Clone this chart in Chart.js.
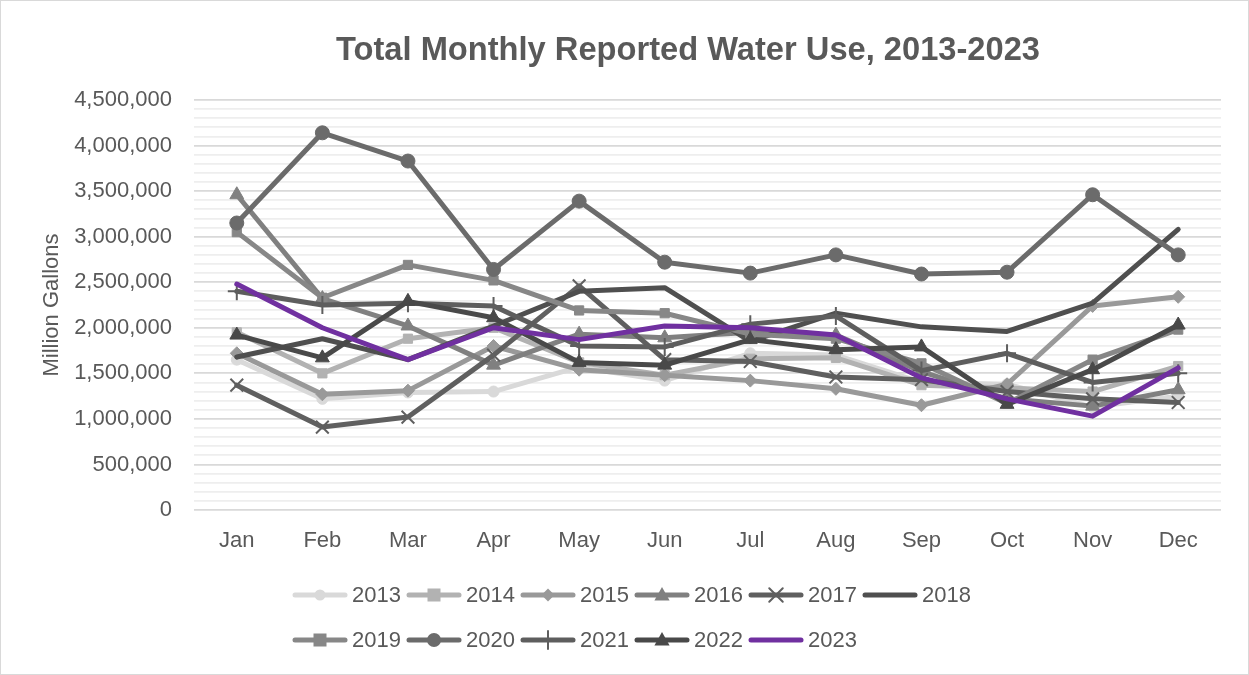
<!DOCTYPE html>
<html>
<head>
<meta charset="utf-8">
<title>Total Monthly Reported Water Use, 2013-2023</title>
<script src="https://cdn.jsdelivr.net/npm/chart.js@4.4.0/dist/chart.umd.min.js"></script>
<style>
    html, body { margin: 0; padding: 0; background: #ffffff; }
    #wrap { width: 1249px; height: 675px; position: relative; }
</style>
</head>
<body>
<div id="wrap"><canvas id="waterChart" width="1249" height="675"></canvas></div>
<script>
const months = ['Jan', 'Feb', 'Mar', 'Apr', 'May', 'Jun', 'Jul', 'Aug', 'Sep', 'Oct', 'Nov', 'Dec'];
const years = ['2013', '2014', '2015', '2016', '2017', '2018', '2019', '2020', '2021', '2022', '2023'];

const use2013 = [1650000, 1220000, 1290000, 1300000, 1570000, 1420000, 1720000, 1700000, 1400000, 1380000, 1130000, 1250000];
const use2014 = [1950000, 1500000, 1880000, 2000000, 1620000, 1480000, 1660000, 1670000, 1370000, 1340000, 1300000, 1580000];
const use2015 = [1720000, 1270000, 1310000, 1800000, 1540000, 1480000, 1420000, 1330000, 1150000, 1380000, 2240000, 2340000];
const use2016 = [3460000, 2320000, 2020000, 1590000, 1930000, 1890000, 1950000, 1920000, 1520000, 1220000, 1140000, 1320000];
const use2017 = [1370000, 910000, 1020000, 1700000, 2460000, 1650000, 1630000, 1460000, 1430000, 1300000, 1220000, 1180000];
const use2018 = [1680000, 1880000, 1650000, 2020000, 2400000, 2440000, 1850000, 2160000, 2010000, 1960000, 2270000, 3080000];
const use2019 = [3050000, 2330000, 2690000, 2520000, 2190000, 2160000, 1930000, 1880000, 1610000, 1170000, 1650000, 1980000];
const use2020 = [3150000, 4140000, 3830000, 2640000, 3390000, 2720000, 2600000, 2800000, 2590000, 2610000, 3460000, 2800000];
const use2021 = [2400000, 2250000, 2270000, 2240000, 1800000, 1790000, 2040000, 2130000, 1530000, 1720000, 1400000, 1500000];
const use2022 = [1920000, 1670000, 2290000, 2110000, 1620000, 1590000, 1870000, 1760000, 1790000, 1160000, 1540000, 2030000];
const use2023 = [2480000, 2000000, 1650000, 2000000, 1870000, 2020000, 2000000, 1920000, 1450000, 1220000, 1030000, 1560000];

const yearValues = [use2013, use2014, use2015, use2016, use2017, use2018, use2019, use2020, use2021, use2022, use2023];

// series look
const lineColors = ['#d9d9d9', '#b2b2b2', '#999999', '#808080', '#5f5f5f', '#4f4f4f', '#878787', '#6b6b6b', '#5e5e5e', '#494949', '#7030a0'];
const markerStyles = ['circle', 'rect', 'rectRot', 'triangle', 'crossRot', false, 'rect', 'circle', 'cross', 'triangle', false];
const markerSizes = [5.5, 6.5, 6.5, 8, 9, 0, 6.5, 7, 9, 8, 0];

const textColor = '#595959';
const fontFamily = '"Liberation Sans", Arial, sans-serif';

function drawMarker(ctx, style, r, x, y, color) {
    if (!style || !r) return;
    ctx.save();
    ctx.fillStyle = color;
    ctx.strokeStyle = color;
    ctx.lineWidth = 2;
    ctx.beginPath();
    if (style === 'circle') {
        ctx.arc(x, y, r, 0, Math.PI * 2);
        ctx.fill();
    } else if (style === 'rect') {
        ctx.fillRect(x - r, y - r, r * 2, r * 2);
    } else if (style === 'rectRot') {
        ctx.moveTo(x, y - r);
        ctx.lineTo(x + r, y);
        ctx.lineTo(x, y + r);
        ctx.lineTo(x - r, y);
        ctx.closePath();
        ctx.fill();
    } else if (style === 'triangle') {
        ctx.moveTo(x, y - r);
        ctx.lineTo(x + r * 0.95, y + r * 0.7);
        ctx.lineTo(x - r * 0.95, y + r * 0.7);
        ctx.closePath();
        ctx.fill();
    } else if (style === 'cross') {
        ctx.moveTo(x, y - r); ctx.lineTo(x, y + r);
        ctx.moveTo(x - r, y); ctx.lineTo(x + r, y);
        ctx.stroke();
    } else if (style === 'crossRot') {
        const d = r * 0.75;
        ctx.moveTo(x - d, y - d); ctx.lineTo(x + d, y + d);
        ctx.moveTo(x + d, y - d); ctx.lineTo(x - d, y + d);
        ctx.stroke();
    }
    ctx.restore();
}

const frameAndLegend = {
    id: 'frameAndLegend',
    beforeDraw(chart) {
        const ctx = chart.ctx;
        ctx.save();
        ctx.fillStyle = '#ffffff';
        ctx.fillRect(0, 0, chart.width, chart.height);
        ctx.restore();
    },
    afterDraw(chart) {
        const ctx = chart.ctx;
        ctx.save();
        // outer frame
        ctx.strokeStyle = '#d9d9d9';
        ctx.lineWidth = 1;
        ctx.strokeRect(0.5, 0.5, chart.width - 1, chart.height - 1);

        // title
        ctx.fillStyle = textColor;
        ctx.font = 'bold 33px ' + fontFamily;
        ctx.textAlign = 'center';
        ctx.textBaseline = 'middle';
        ctx.fillText('Total Monthly Reported Water Use, 2013-2023', 688, 51, 704);

        // legend, two rows of six
        ctx.font = '22px ' + fontFamily;
        ctx.textAlign = 'left';
        years.forEach((yr, i) => {
            const row = Math.floor(i / 6);
            const col = i % 6;
            const x0 = 295 + col * 114;
            const y0 = 595 + row * 45;
            ctx.strokeStyle = lineColors[i];
            ctx.lineWidth = 5;
            ctx.lineCap = 'round';
            ctx.beginPath();
            ctx.moveTo(x0, y0);
            ctx.lineTo(x0 + 50, y0);
            ctx.stroke();
            drawMarker(ctx, markerStyles[i], markerSizes[i], x0 + 25, y0, lineColors[i]);
            ctx.fillStyle = textColor;
            ctx.fillText(yr, x0 + 57, y0 + 1);
        });
        ctx.restore();
    }
};

const datasets = years.map((yr, i) => ({
    label: yr,
    data: yearValues[i],
    borderColor: lineColors[i],
    backgroundColor: lineColors[i],
    borderWidth: 5,
    borderCapStyle: 'round',
    borderJoinStyle: 'round',
    tension: 0,
    pointStyle: markerStyles[i],
    pointRadius: markerSizes[i],
    pointHoverRadius: markerSizes[i],
    pointBorderWidth: (markerStyles[i] === 'cross' || markerStyles[i] === 'crossRot') ? 2 : 1,
    pointBorderColor: lineColors[i],
    pointBackgroundColor: lineColors[i],
    order: years.length - i
}));

new Chart(document.getElementById('waterChart'), {
    type: 'line',
    data: { labels: months, datasets: datasets },
    options: {
        responsive: false,
        animation: false,
        layout: { padding: { top: 100, right: 28, bottom: 0, left: 0 } },
        plugins: {
            legend: { display: false },
            title: { display: false },
            tooltip: { enabled: false }
        },
        scales: {
            x: {
                offset: true,
                grid: { display: false, drawTicks: false },
                border: { display: false },
                ticks: {
                    color: textColor,
                    font: { family: fontFamily, size: 22 },
                    padding: 18,
                    maxRotation: 0
                },
                afterFit(scale) { scale.height = 165; }
            },
            y: {
                min: 0,
                max: 4500000,
                grid: {
                    drawTicks: false,
                    color: c => (c.tick.value % 500000 === 0 ? '#d9d9d9' : '#eeeeee'),
                    lineWidth: 1.8
                },
                border: { display: false },
                ticks: {
                    stepSize: 100000,
                    autoSkip: false,
                    color: textColor,
                    font: { family: fontFamily, size: 22 },
                    padding: 22,
                    callback: v => (v % 500000 === 0 ? v.toLocaleString('en-US') : '')
                },
                title: {
                    display: true,
                    text: 'Million Gallons',
                    color: textColor,
                    font: { family: fontFamily, size: 22 },
                    padding: { top: 39, bottom: 0 }
                },
                afterFit(scale) { scale.width = 194; }
            }
        }
    },
    plugins: [frameAndLegend]
});
</script>
</body>
</html>
